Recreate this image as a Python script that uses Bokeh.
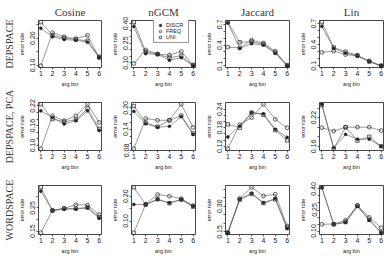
from bokeh.plotting import figure
from bokeh.layouts import column, row
from bokeh.models import Range1d, FixedTicker, Title, Legend, LegendItem
from bokeh.embed import file_html
from bokeh.resources import INLINE

# ---- data -------------------------------------------------------------
BINS = [1, 2, 3, 4, 5, 6]
SPACES = ["DEPSPACE", "DEPSPACE, PCA", "WORDSPACE"]
MEASURES = ["Cosine", "nGCM", "Jaccard", "Lin"]
SERIES = ["DISCR", "FREQ", "UNI"]

# DEPSPACE
DEP_COS_DISCR = [0.236, 0.205, 0.195, 0.192, 0.185, 0.130]
DEP_COS_FREQ = [0.099, 0.220, 0.205, 0.198, 0.210, 0.128]
DEP_COS_UNI = [0.258, 0.210, 0.200, 0.195, 0.190, 0.132]
DEP_NGCM_DISCR = [0.377, 0.170, 0.165, 0.120, 0.140, 0.078]
DEP_NGCM_FREQ = [0.095, 0.198, 0.168, 0.160, 0.187, 0.085]
DEP_NGCM_UNI = [0.410, 0.185, 0.166, 0.140, 0.154, 0.080]
DEP_JAC_DISCR = [0.72, 0.35, 0.42, 0.40, 0.28, 0.10]
DEP_JAC_FREQ = [0.37, 0.36, 0.47, 0.43, 0.31, 0.10]
DEP_JAC_UNI = [0.73, 0.44, 0.45, 0.41, 0.29, 0.11]
DEP_LIN_DISCR = [0.66, 0.35, 0.28, 0.24, 0.16, 0.10]
DEP_LIN_FREQ = [0.29, 0.31, 0.26, 0.24, 0.17, 0.10]
DEP_LIN_UNI = [0.72, 0.36, 0.30, 0.25, 0.16, 0.10]

# DEPSPACE, PCA
PCA_COS_DISCR = [0.205, 0.185, 0.165, 0.175, 0.205, 0.145]
PCA_COS_FREQ = [0.090, 0.190, 0.175, 0.190, 0.225, 0.170]
PCA_COS_UNI = [0.225, 0.180, 0.172, 0.178, 0.212, 0.150]
PCA_NGCM_DISCR = [0.190, 0.155, 0.145, 0.148, 0.175, 0.125]
PCA_NGCM_FREQ = [0.085, 0.170, 0.165, 0.165, 0.210, 0.145]
PCA_NGCM_UNI = [0.205, 0.158, 0.147, 0.165, 0.178, 0.128]
PCA_JAC_DISCR = [0.150, 0.185, 0.229, 0.225, 0.175, 0.149]
PCA_JAC_FREQ = [0.112, 0.190, 0.213, 0.256, 0.207, 0.180]
PCA_JAC_UNI = [0.191, 0.180, 0.229, 0.222, 0.172, 0.139]
PCA_LIN_DISCR = [0.248, 0.157, 0.185, 0.175, 0.175, 0.160]
PCA_LIN_FREQ = [0.199, 0.192, 0.200, 0.200, 0.200, 0.193]
PCA_LIN_UNI = [0.246, 0.155, 0.200, 0.172, 0.180, 0.160]

# WORDSPACE
WRD_COS_DISCR = [0.322, 0.239, 0.245, 0.245, 0.250, 0.205]
WRD_COS_FREQ = [0.143, 0.240, 0.248, 0.264, 0.262, 0.221]
WRD_COS_UNI = [0.339, 0.238, 0.247, 0.247, 0.252, 0.210]
WRD_NGCM_DISCR = [0.167, 0.167, 0.187, 0.173, 0.187, 0.160]
WRD_NGCM_FREQ = [0.053, 0.168, 0.207, 0.200, 0.190, 0.162]
WRD_NGCM_UNI = [0.236, 0.166, 0.188, 0.172, 0.186, 0.158]
WRD_JAC_DISCR = [0.146, 0.340, 0.375, 0.320, 0.345, 0.170]
WRD_JAC_FREQ = [0.146, 0.345, 0.410, 0.360, 0.370, 0.185]
WRD_JAC_UNI = [0.146, 0.338, 0.372, 0.318, 0.340, 0.175]
WRD_LIN_DISCR = [0.410, 0.148, 0.160, 0.275, 0.176, 0.088]
WRD_LIN_FREQ = [0.148, 0.150, 0.176, 0.283, 0.197, 0.123]
WRD_LIN_UNI = [0.412, 0.147, 0.165, 0.280, 0.180, 0.090]

# y-axis ticks and the subset of them that carry a label
DEP_COS_YTICKS = [0.10, 0.15, 0.20, 0.25]
DEP_COS_YLABELS = {0.10: "0.10", 0.20: "0.20"}
DEP_NGCM_YTICKS = [0.10, 0.15, 0.20, 0.25, 0.30, 0.35, 0.40]
DEP_NGCM_YLABELS = {0.10: "0.10", 0.25: "0.25", 0.40: "0.40"}
DEP_JAC_YTICKS = [0.1, 0.2, 0.3, 0.4, 0.5, 0.6, 0.7]
DEP_JAC_YLABELS = {0.1: "0.1", 0.4: "0.4", 0.7: "0.7"}
DEP_LIN_YTICKS = [0.1, 0.2, 0.3, 0.4, 0.5, 0.6, 0.7]
DEP_LIN_YLABELS = {0.1: "0.1", 0.4: "0.4", 0.7: "0.7"}
PCA_COS_YTICKS = [0.10, 0.12, 0.14, 0.16, 0.18, 0.20, 0.22]
PCA_COS_YLABELS = {0.10: "0.10", 0.16: "0.16", 0.22: "0.22"}
PCA_NGCM_YTICKS = [0.08, 0.10, 0.12, 0.14, 0.16, 0.18, 0.20]
PCA_NGCM_YLABELS = {0.08: "0.08", 0.14: "0.14", 0.20: "0.20"}
PCA_JAC_YTICKS = [0.12, 0.14, 0.16, 0.18, 0.20, 0.22, 0.24]
PCA_JAC_YLABELS = {0.12: "0.12", 0.18: "0.18", 0.24: "0.24"}
PCA_LIN_YTICKS = [0.16, 0.18, 0.20, 0.22, 0.24]
PCA_LIN_YLABELS = {0.16: "0.16", 0.22: "0.22"}
WRD_COS_YTICKS = [0.15, 0.20, 0.25, 0.30]
WRD_COS_YLABELS = {0.15: "0.15", 0.25: "0.25"}
WRD_NGCM_YTICKS = [0.10, 0.15, 0.20]
WRD_NGCM_YLABELS = {0.10: "0.10", 0.20: "0.20"}
WRD_JAC_YTICKS = [0.15, 0.20, 0.25, 0.30, 0.35, 0.40]
WRD_JAC_YLABELS = {0.15: "0.15", 0.30: "0.30"}
WRD_LIN_YTICKS = [0.10, 0.15, 0.20, 0.25, 0.30, 0.35, 0.40]
WRD_LIN_YLABELS = {0.10: "0.10", 0.25: "0.25", 0.40: "0.40"}

# ---- layout / style ---------------------------------------------------
COL_W = [104, 94, 94, 94]
ROW_H = [89, 83, 84]
BORDER_LEFT = [35, 27, 27, 27]
BORDER_TOP = [20, 13, 13]
BORDER_BOTTOM = [20, 18, 20]

SANS = "Liberation Sans"
SERIF = "Liberation Serif"
INK = "#222222"
HEAD = "#383838"
LINE = "#555555"


def make_panel(ri, ci, discr, freq, uni, yticks, ylabels, with_legend=False):
    vals = discr + freq + uni
    lo, hi = min(vals), max(vals)
    pad = 0.04 * (hi - lo)
    p = figure(width=COL_W[ci], height=ROW_H[ri],
               x_range=Range1d(0.8, 6.2), y_range=Range1d(lo - pad, hi + pad),
               output_backend="svg", toolbar_location=None,
               title=MEASURES[ci] if ri == 0 else None,
               min_border_left=BORDER_LEFT[ci], min_border_right=3,
               min_border_top=BORDER_TOP[ri], min_border_bottom=BORDER_BOTTOM[ri])
    p.background_fill_color = "white"
    p.border_fill_color = "white"
    p.xgrid.visible = False
    p.ygrid.visible = False
    p.outline_line_color = "#333333"
    p.outline_line_width = 0.9
    p.outline_line_alpha = 1

    if ri == 0:
        p.title.align = "center"
        p.title.text_font = SERIF
        p.title.text_font_size = "11px"
        p.title.text_font_style = "normal"
        p.title.text_color = HEAD
        p.title.standoff = 5

    if ci == 0:
        p.add_layout(Title(text=SPACES[ri], align="center", text_font=SERIF,
                           text_font_size="10px", text_font_style="normal",
                           text_color=HEAD, standoff=2), "left")

    for ax in (p.xaxis[0], p.yaxis[0]):
        ax.axis_line_color = None
        ax.major_tick_out = 2
        ax.major_tick_in = 0
        ax.major_tick_line_color = "#333333"
        ax.major_tick_line_width = 0.8
        ax.minor_tick_line_color = None
        ax.major_label_text_font = SANS
        ax.major_label_text_font_size = "7px"
        ax.major_label_text_color = INK
        ax.major_label_standoff = 1
        ax.axis_label_text_font = SANS
        ax.axis_label_text_font_size = "5.5px"
        ax.axis_label_text_font_style = "normal"
        ax.axis_label_text_color = INK

    p.xaxis.ticker = FixedTicker(ticks=BINS)
    p.xaxis.axis_label = "arg bin"
    p.xaxis.axis_label_standoff = 2
    p.yaxis.ticker = FixedTicker(ticks=yticks)
    p.yaxis.major_label_overrides = {t: ylabels.get(t, "") for t in yticks}
    p.yaxis.major_label_orientation = "vertical"
    p.yaxis.axis_label = "error rate"
    p.yaxis.axis_label_standoff = 3

    styles = [
        (discr, "circle", 2.8, INK),
        (freq, "circle", 3.8, None),
        (uni, "square", 3.4, None),
    ]
    marks = []
    for ys, marker, size, fill in styles:
        p.line(BINS, ys, line_color=LINE, line_width=0.6)
        r = p.scatter(BINS, ys, marker=marker, size=size, line_color=INK,
                      line_width=0.7, fill_color=fill)
        marks.append(r)

    if with_legend:
        items = [LegendItem(label=s, renderers=[r]) for s, r in zip(SERIES, marks)]
        lg = Legend(items=items, location=(22, 24),
                    border_line_color="#333333", border_line_width=0.7,
                    background_fill_color="white", background_fill_alpha=1,
                    label_text_font=SANS, label_text_font_size="5.5px",
                    label_text_color=INK,
                    glyph_width=8, glyph_height=6, label_height=6,
                    label_standoff=2, spacing=0, padding=2, margin=0)
        p.add_layout(lg)
    return p


panels = [
    [
        make_panel(0, 0, DEP_COS_DISCR, DEP_COS_FREQ, DEP_COS_UNI, DEP_COS_YTICKS, DEP_COS_YLABELS),
        make_panel(0, 1, DEP_NGCM_DISCR, DEP_NGCM_FREQ, DEP_NGCM_UNI, DEP_NGCM_YTICKS, DEP_NGCM_YLABELS, True),
        make_panel(0, 2, DEP_JAC_DISCR, DEP_JAC_FREQ, DEP_JAC_UNI, DEP_JAC_YTICKS, DEP_JAC_YLABELS),
        make_panel(0, 3, DEP_LIN_DISCR, DEP_LIN_FREQ, DEP_LIN_UNI, DEP_LIN_YTICKS, DEP_LIN_YLABELS),
    ],
    [
        make_panel(1, 0, PCA_COS_DISCR, PCA_COS_FREQ, PCA_COS_UNI, PCA_COS_YTICKS, PCA_COS_YLABELS),
        make_panel(1, 1, PCA_NGCM_DISCR, PCA_NGCM_FREQ, PCA_NGCM_UNI, PCA_NGCM_YTICKS, PCA_NGCM_YLABELS),
        make_panel(1, 2, PCA_JAC_DISCR, PCA_JAC_FREQ, PCA_JAC_UNI, PCA_JAC_YTICKS, PCA_JAC_YLABELS),
        make_panel(1, 3, PCA_LIN_DISCR, PCA_LIN_FREQ, PCA_LIN_UNI, PCA_LIN_YTICKS, PCA_LIN_YLABELS),
    ],
    [
        make_panel(2, 0, WRD_COS_DISCR, WRD_COS_FREQ, WRD_COS_UNI, WRD_COS_YTICKS, WRD_COS_YLABELS),
        make_panel(2, 1, WRD_NGCM_DISCR, WRD_NGCM_FREQ, WRD_NGCM_UNI, WRD_NGCM_YTICKS, WRD_NGCM_YLABELS),
        make_panel(2, 2, WRD_JAC_DISCR, WRD_JAC_FREQ, WRD_JAC_UNI, WRD_JAC_YTICKS, WRD_JAC_YLABELS),
        make_panel(2, 3, WRD_LIN_DISCR, WRD_LIN_FREQ, WRD_LIN_UNI, WRD_LIN_YTICKS, WRD_LIN_YLABELS),
    ],
]

layout = column(*[row(*r, spacing=0) for r in panels], spacing=0)

with open("out.html", "w") as f:
    f.write(file_html(layout, INLINE))
